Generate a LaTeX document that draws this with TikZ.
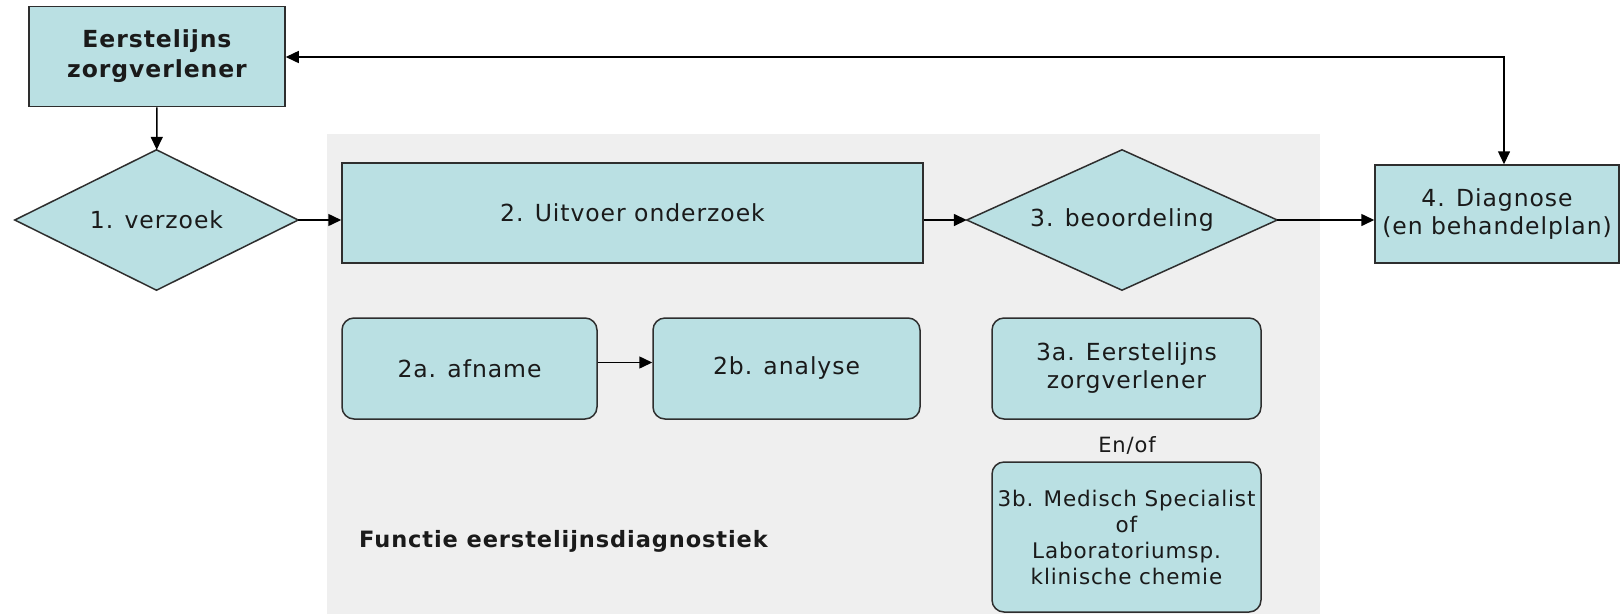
\documentclass[tikz,border=0pt]{standalone}
\usepackage{fontspec}
\setmainfont{DejaVu Sans}[LetterSpace=4]
\usetikzlibrary{shapes.geometric,arrows.meta}
\definecolor{boxc}{HTML}{BAE0E3}
\definecolor{bgc}{HTML}{EFEFEF}
\definecolor{bordc}{HTML}{2E2E2E}
\definecolor{txtc}{HTML}{1A1A1A}
\begin{document}
\begin{tikzpicture}[x=1pt,y=-1pt,
  box/.style={draw=bordc, fill=boxc, line width=1.5pt, align=center, inner sep=0pt, text=txtc,
    font=\fontsize{23.5}{28}\selectfont},
  rbox/.style={box, rounded corners=12pt},
  diatext/.style={align=center, inner sep=0pt, text=txtc, font=\fontsize{23.5}{28}\selectfont},
  diashape/.style={draw=bordc, fill=boxc, line width=1.5pt},
  arr/.style={-{Triangle[length=13pt,width=12pt]}, line width=1.5pt, draw=black},
  arrb/.style={{Triangle[length=13pt,width=12pt]}-{Triangle[length=13pt,width=12pt]}, line width=1.5pt, draw=black},
  lbl/.style={text=txtc, inner sep=0pt}]
\useasboundingbox (0,0) rectangle (1621,614);
\fill[white] (0,0) rectangle (1621,614);
\fill[bgc] (327,134) rectangle (1320,614);

\node[box, minimum width=256pt, minimum height=100pt, font=\fontsize{23.5}{30}\selectfont\bfseries] (ez) at (157,56.5) {Eerstelijns\\zorgverlener};

% diamonds: invisible bounding nodes, outline drawn from their anchors
\node[diatext, minimum width=283pt, minimum height=140pt] (d1) at (156.5,220) {};
\draw[diashape] (d1.west) -- (d1.north) -- (d1.east) -- (d1.south) -- cycle;
\node[diatext] (d1t) at (d1.center) {1. verzoek};

\node[diatext, minimum width=310pt, minimum height=140pt] (d3) at (1122,220) {};
\draw[diashape] (d3.west) -- (d3.north) -- (d3.east) -- (d3.south) -- cycle;
\node[diatext] (d3t) at (d3.center) {3. beoordeling};

\node[box, minimum width=581pt, minimum height=100pt] (b2) at (632.5,213) {2. Uitvoer onderzoek};
\node[box, minimum width=244pt, minimum height=98pt] (dg) at (1497,214) {4. Diagnose\\(en behandelplan)};

\node[rbox, minimum width=255pt, minimum height=101pt] (a2) at (469.5,368.5) {2a. afname};
\node[rbox, minimum width=267pt, minimum height=101pt] (b2b) at (786.5,368.5) {2b. analyse};
\node[rbox, minimum width=269pt, minimum height=101pt] (a3) at (1126.5,368.5) {3a. Eerstelijns\\zorgverlener};
\node[lbl, font=\fontsize{21}{24}\selectfont] (enof) at (1127,445) {En/of};
\node[rbox, minimum width=269pt, minimum height=150pt, font=\fontsize{21.5}{26}\selectfont] (b3) at (1126.5,537) {3b. Medisch Specialist\\of\\Laboratoriumsp.\\klinische chemie};
\node[lbl, anchor=west, font=\fontsize{22.5}{26}\selectfont\bfseries] (fn) at (359,541) {Functie eerstelijnsdiagnostiek};

\coordinate (tc) at (1504,57);
\draw[arr] (ez) -- (d1);
\draw[arr] (d1.east) -- (d1.east -| b2.west);
\draw[arr] (b2.east |- d3.west) -- (d3.west);
\draw[arr] (d3.east) -- (d3.east -| dg.west);
\draw[arrb] (tc -| ez.east) -- (tc) -- (tc |- dg.north);
\draw[arr] ([yshift=6pt]a2.east) -- ([yshift=6pt]b2b.west);
\end{tikzpicture}
\end{document}
